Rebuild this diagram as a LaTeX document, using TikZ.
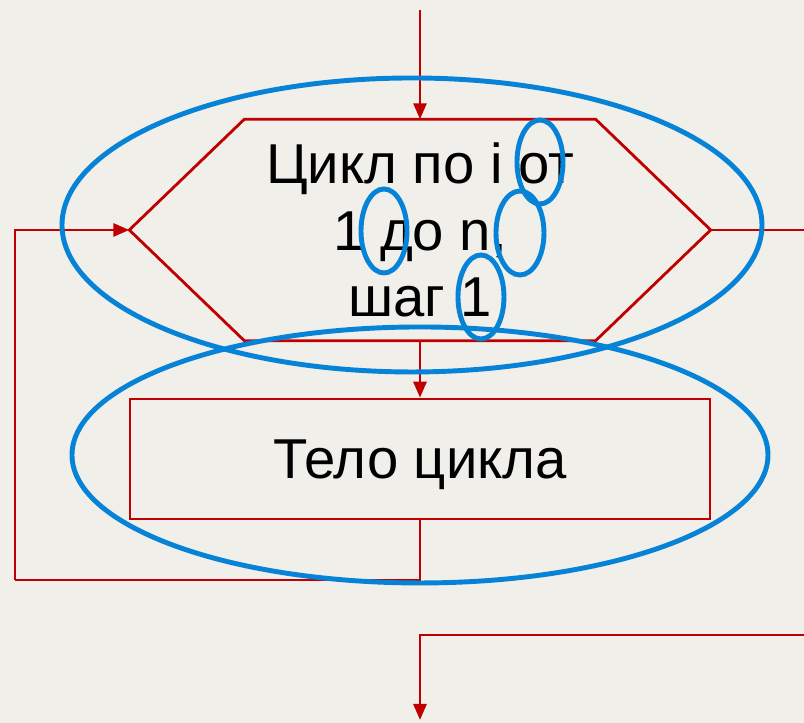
\documentclass[tikz,border=0pt]{standalone}
\usepackage{fontspec}
\setmainfont{Liberation Sans}
\usetikzlibrary{arrows.meta,positioning}
\definecolor{bgpaper}{HTML}{F0EFEA}
\definecolor{flowred}{HTML}{C00000}
\definecolor{hlblue}{HTML}{0683D7}

\begin{document}
\begin{tikzpicture}[
  >={Triangle[length=1.6mm,width=1.3mm]},
  flow/.style={draw=flowred, line width=0.8pt},
  arr/.style={->, flow},
  blk/.style={align=center, inner sep=0pt, font=\fontsize{16}{19}\selectfont},
  hl/.style={draw=hlblue, line width=1.4pt},
  node distance=0.57cm and 0.5cm
]
\useasboundingbox[fill=bgpaper] (0,0) rectangle (8.04,7.23);
\node[blk, minimum width=5.8cm, minimum height=2.2cm] (cyc) at (4.2,4.93) {Цикл по i от\\1 до n,\\шаг 1};
\node[blk, flow, text depth=0pt, minimum width=5.8cm, minimum height=1.2cm, below=of cyc] (body) {Тело цикла};
% hexagon of the loop header
\draw[flow] (cyc.west) -- ([xshift=1.15cm]cyc.north west) -- ([xshift=-1.15cm]cyc.north east)
  -- (cyc.east) -- ([xshift=-1.15cm]cyc.south east) -- ([xshift=1.15cm]cyc.south west) -- cycle;
\coordinate (entry) at (4.2,7.13);
\coordinate (loopturn) at (0.15,1.43);
\coordinate (rightend) at (8.04,4.93);
\coordinate (exitin) at (8.04,0.88);
\coordinate (exitout) at (4.2,0.03);
\draw[arr] (entry) -- (cyc.north);
\draw[arr] (cyc.south) -- (body.north);
\draw[flow] (body.south) |- (loopturn);
\draw[arr] (loopturn) |- (cyc.west);
\draw[flow] (cyc.east) -- (rightend);
\draw[arr] (exitin) -| (exitout);
% blue marks
\draw[hl] (4.12,4.98) ellipse [x radius=3.5, y radius=1.47];
\draw[hl] (4.2,2.68) ellipse [x radius=3.48, y radius=1.28];
\draw[hl] (5.40,5.61) ellipse [x radius=0.23, y radius=0.42];
\draw[hl] (3.84,4.92) ellipse [x radius=0.23, y radius=0.42];
\draw[hl] (5.20,4.90) ellipse [x radius=0.24, y radius=0.42];
\draw[hl] (4.81,4.26) ellipse [x radius=0.23, y radius=0.42];
\end{tikzpicture}
\end{document}
